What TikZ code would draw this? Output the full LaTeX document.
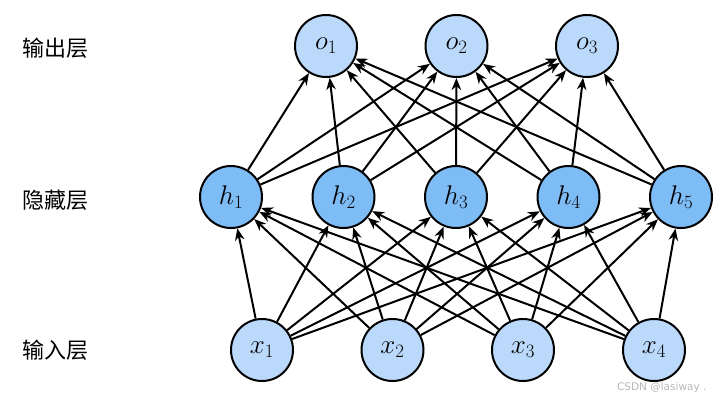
\documentclass[tikz,border=0pt]{standalone}
\usepackage{fix-cm}
\usepackage{fontspec}
\newfontfamily\cjk{Noto Sans CJK SC}
\newfontfamily\wm{DejaVu Sans}
\usetikzlibrary{arrows.meta}
\definecolor{lightfill}{HTML}{BBD9FA}
\definecolor{darkfill}{HTML}{7EBCF6}
\definecolor{wmgray}{HTML}{B8B8B8}
\tikzset{
  neuron/.style={circle, draw=black, line width=2pt, minimum size=62pt, inner sep=0pt,
    font=\fontsize{27}{31}\selectfont},
  inneuron/.style={neuron, fill=lightfill},
  hidneuron/.style={neuron, fill=darkfill},
  outneuron/.style={neuron, fill=lightfill},
  conn/.style={-{Stealth[length=12pt,width=9.5pt]}, line width=2pt, black},
  layerlabel/.style={font=\cjk\fontsize{22}{25}\selectfont, anchor=center}
}
\begin{document}
\begin{tikzpicture}[x=1pt,y=-1pt]
\useasboundingbox (0,0) rectangle (720,400);
% output layer
\node[outneuron] (o1) at (326,46) {$o_1$};
\node[outneuron] (o2) at (456.5,46) {$o_2$};
\node[outneuron] (o3) at (587,46) {$o_3$};
% hidden layer
\node[hidneuron] (h1) at (231,197) {$h_1$};
\node[hidneuron] (h2) at (343.5,197) {$h_2$};
\node[hidneuron] (h3) at (456,197) {$h_3$};
\node[hidneuron] (h4) at (568.5,197) {$h_4$};
\node[hidneuron] (h5) at (681,197) {$h_5$};
% input layer
\node[inneuron] (x1) at (262,350) {$x_1$};
\node[inneuron] (x2) at (392.5,350) {$x_2$};
\node[inneuron] (x3) at (523,350) {$x_3$};
\node[inneuron] (x4) at (654,350) {$x_4$};
% connections
\foreach \i in {1,...,4}{
  \foreach \j in {1,...,5}{
    \draw[conn] (x\i) -- (h\j);
  }
}
\foreach \j in {1,...,5}{
  \foreach \k in {1,...,3}{
    \draw[conn] (h\j) -- (o\k);
  }
}
% labels
\node[layerlabel] (lo) at (56,48) {输出层};
\node[layerlabel] (lh) at (56,200) {隐藏层};
\node[layerlabel] (li) at (56,350) {输入层};
\node[font=\wm\fontsize{10.5}{12}\selectfont, text=wmgray, anchor=east] (wm) at (710,388) {CSDN @lasiway .};
\end{tikzpicture}
\end{document}
